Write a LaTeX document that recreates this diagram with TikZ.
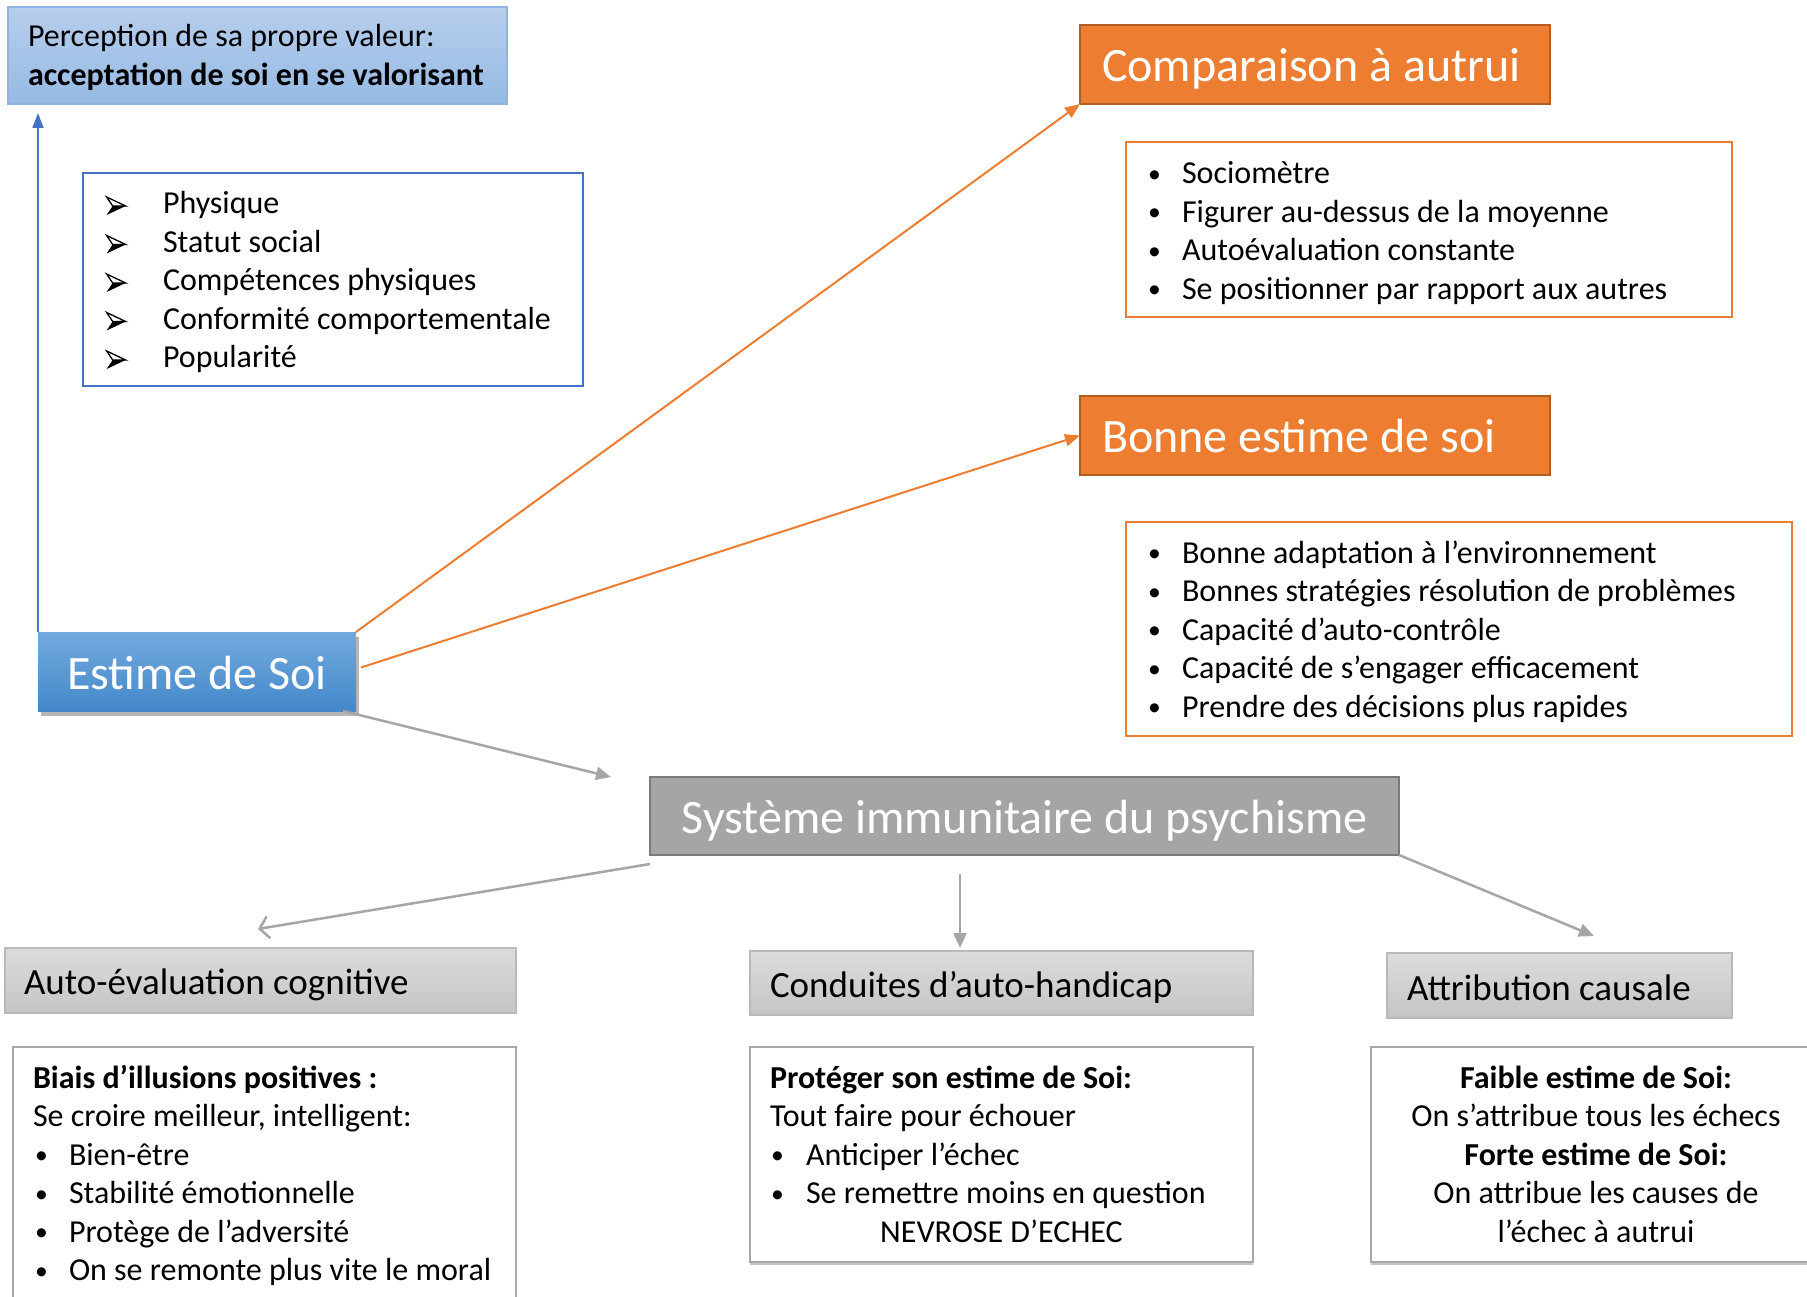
\documentclass[tikz,border=0pt]{standalone}
\usepackage{fontspec}
\setmainfont{Carlito}
\usetikzlibrary{arrows.meta,shadows,calc}

\definecolor{blueLine}{HTML}{4472C4}
\definecolor{percTop}{HTML}{B7CEEC}
\definecolor{percBot}{HTML}{96BAE4}
\definecolor{percEdge}{HTML}{8FB4E2}
\definecolor{estTop}{HTML}{73AADF}
\definecolor{estBot}{HTML}{4388CA}
\definecolor{orangeA}{HTML}{ED7D31}
\definecolor{orangeEdge}{HTML}{B45D22}
\definecolor{sysFill}{HTML}{A5A5A5}
\definecolor{sysEdge}{HTML}{7B7B7B}
\definecolor{headTop}{HTML}{DCDCDC}
\definecolor{headBot}{HTML}{C5C5C5}
\definecolor{headEdge}{HTML}{B9B9B9}
\definecolor{panelEdge}{HTML}{A8A8A8}
\definecolor{arrowGray}{HTML}{A6A6A6}

% list helpers: a 3D arrowhead bullet and a round bullet
\newcommand\arrowmark{\tikz[x=1pt,y=1pt,baseline=0pt]{%
  \fill[black] (0,-1) -- (19,8) -- (6,8) -- cycle;
  \draw[black, line width=1.3pt, fill=white, line join=miter] (0,17) -- (19,8) -- (6,8) -- cycle;}}
\newcommand\arrowitem[1]{\hbox{\hbox to 57pt{\arrowmark\hss}#1}}
\newcommand\dotitem[2]{\hbox{\hbox to #1{\raisebox{1.5pt}{\scalebox{0.8}{•}}\hss}#2}}

\begin{document}
\begin{tikzpicture}[x=1pt,y=-1pt,
  every node/.style={inner sep=0pt, outer sep=0pt},
  frame/.style={draw, rectangle, inner sep=0pt},
  body/.style={font=\fontsize{32pt}{38.5pt}\selectfont, anchor=base west, text=black},
  bigtext/.style={font=\fontsize{48pt}{58pt}\selectfont, text=white},
  midtext/.style={font=\fontsize{37pt}{44pt}\selectfont, anchor=base west, text=black},
  orangebox/.style={frame, fill=orangeA, draw=orangeEdge, line width=2pt},
  orangelist/.style={frame, draw=orangeA, line width=2.5pt, fill=white},
  headbox/.style={frame, top color=headTop, bottom color=headBot, draw=headEdge, line width=1.5pt},
  panel/.style={frame, draw=panelEdge, line width=2.5pt, fill=white,
    drop shadow={shadow xshift=0pt, shadow yshift=-2.5pt, opacity=0.45, fill=gray}},
  grayarrow/.style={draw=arrowGray, line width=2.5pt, -{Triangle[length=15pt,width=13pt]}},
  orangearrow/.style={draw=orangeA, line width=2pt, -{Triangle[length=15pt,width=12pt]}},
]
\useasboundingbox[fill=white] (0,0) rectangle (1807,1297);

% ---------- upper left ----------
\node[frame, draw=percEdge, line width=1.5pt, top color=percTop, bottom color=percBot,
      minimum width=499pt, minimum height=97pt] (perc) at (257.5,55.5) {};
\node[body, font=\fontsize{32pt}{39pt}\selectfont] (percT) at (28,47)
  {\vtop{\hbox{Perception de sa propre valeur:}\hbox{\bfseries acceptation de soi en se valorisant}}};

\node[frame, draw=blueLine, line width=2.5pt, fill=white,
      minimum width=500pt, minimum height=213pt] (phys) at (333,279.5) {};
\node[body] (physT) at (106,214)
  {\vtop{\arrowitem{Physique}\arrowitem{Statut social}\arrowitem{Compétences physiques}%
         \arrowitem{Conformité comportementale}\arrowitem{Popularité}}};

\node[frame, draw=none, top color=estTop, bottom color=estBot,
      drop shadow={shadow xshift=3pt, shadow yshift=-5pt, opacity=0.4, fill=black!70},
      minimum width=318pt, minimum height=79pt] (est) at (197,671.5) {};
\node[bigtext, anchor=base] (estT) at (197,689) {Estime de Soi};

% ---------- upper right ----------
\node[orangebox, minimum width=470pt, minimum height=79pt] (comp) at (1315,64.5) {};
\node[bigtext, anchor=base west] (compT) at (1102,82) {Comparaison à autrui};

\node[orangelist, minimum width=606pt, minimum height=175pt] (socio) at (1429,229.5) {};
\node[body] (socioT) at (1148,184)
  {\vtop{\dotitem{34pt}{Sociomètre}\dotitem{34pt}{Figurer au-dessus de la moyenne}%
         \dotitem{34pt}{Autoévaluation constante}\dotitem{34pt}{Se positionner par rapport aux autres}}};

\node[orangebox, minimum width=470pt, minimum height=79pt] (bonne) at (1315,435.5) {};
\node[bigtext, anchor=base west] (bonneT) at (1102,452) {Bonne estime de soi};

\node[orangelist, minimum width=666pt, minimum height=214pt] (bonL) at (1459,629) {};
\node[body] (bonLT) at (1148,563)
  {\vtop{\dotitem{34pt}{Bonne adaptation à l’environnement}%
         \dotitem{34pt}{Bonnes stratégies résolution de problèmes}%
         \dotitem{34pt}{Capacité d’auto-contrôle}%
         \dotitem{34pt}{Capacité de s’engager efficacement}%
         \dotitem{34pt}{Prendre des décisions plus rapides}}};

% ---------- middle ----------
\node[frame, fill=sysFill, draw=sysEdge, line width=2pt,
      minimum width=749pt, minimum height=78pt] (sys) at (1024.5,816) {};
\node[bigtext, anchor=base] (sysT) at (1024.5,833) {Système immunitaire du psychisme};

% ---------- lower headers ----------
\node[headbox, minimum width=511pt, minimum height=65pt] (auto) at (260.5,980.5) {};
\node[midtext] (autoT) at (24,994) {Auto-évaluation cognitive};

\node[headbox, minimum width=503pt, minimum height=64pt] (cond) at (1001.5,983) {};
\node[midtext] (condT) at (770,997) {Conduites d’auto-handicap};

\node[headbox, minimum width=345pt, minimum height=65pt] (attr) at (1559.5,985.5) {};
\node[midtext] (attrT) at (1407,1000) {Attribution causale};

% ---------- lower panels ----------
\node[panel, minimum width=503pt, minimum height=273pt] (biais) at (264.5,1183.5) {};
\node[body] (biaisT) at (33,1088)
  {\vtop{\hbox{\bfseries Biais d’illusions positives :}\hbox{Se croire meilleur, intelligent:}%
         \hbox{\hskip2pt\dotitem{34pt}{Bien-être}}\hbox{\hskip2pt\dotitem{34pt}{Stabilité émotionnelle}}%
         \hbox{\hskip2pt\dotitem{34pt}{Protège de l’adversité}}\hbox{\hskip2pt\dotitem{34pt}{On se remonte plus vite le moral}}}};

\node[panel, minimum width=503pt, minimum height=215pt] (prot) at (1001.5,1154.5) {};
\node[body] (protT) at (770,1088)
  {\vtop{\hbox{\bfseries Protéger son estime de Soi:}\hbox{Tout faire pour échouer}%
         \hbox{\hskip1pt\dotitem{35pt}{Anticiper l’échec}}\hbox{\hskip1pt\dotitem{35pt}{Se remettre moins en question}}%
         \hbox to 463pt{\hss NEVROSE D’ECHEC\hss}}};

\node[panel, minimum width=450pt, minimum height=215pt] (faible) at (1596,1154.5) {};
\node[body, anchor=base] (faibleT) at (1596,1088)
  {\vtop{\halign{\hfil#\hfil\cr
     \bfseries Faible estime de Soi:\cr
     On s’attribue tous les échecs\cr
     \bfseries Forte estime de Soi:\cr
     On attribue les causes de\cr
     l’échec à autrui\cr}}};

% ---------- connectors ----------
\coordinate (estNW) at (est.north west);
\draw[draw=blueLine, line width=2pt, -{Triangle[length=15pt,width=11pt]}, shorten >=9pt]
  (estNW) -- (estNW |- perc.south);
\draw[orangearrow] (est.north east) -- (comp.south west);
\draw[orangearrow] ($(est.east)+(5,-4)$) -- (bonne.west);

\coordinate (sysEntry) at ($(sys.north west)+(-39,0)$);
\draw[grayarrow] ($(est.south east)+(-13,0)$) -- (sysEntry);

\coordinate (autoEntry) at ($(auto.north)+(-2.5,-19)$);
\draw[draw=arrowGray, line width=2.5pt, -{Straight Barb[length=9pt,width=22pt]}]
  ($(sys.south west)+(0,9)$) -- (autoEntry);
\draw[grayarrow] ($(sys.south)+(-64.5,19)$) -- ($(cond.north)+(-41.5,-3)$);
\coordinate (attrEntry) at ($(attr.north)+(34.5,-17)$);
\draw[grayarrow] (sys.south east) -- (attrEntry);
\end{tikzpicture}
\end{document}
